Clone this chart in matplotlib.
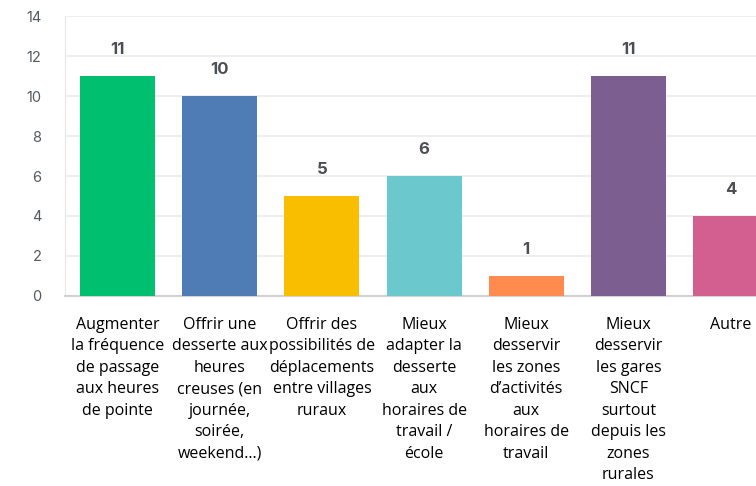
import matplotlib.pyplot as plt
import numpy as np

categories = [
    "Augmenter\nla fréquence\nde passage\naux heures\nde pointe",
    "Offrir une\ndesserte aux\nheures\ncreuses (en\njournée,\nsoirée,\nweekend…)",
    "Offrir des\npossibilités de\ndéplacements\nentre villages\nruraux",
    "Mieux\nadapter la\ndesserte\naux\nhoraires de\ntravail /\nécole",
    "Mieux\ndesservir\nles zones\nd’activités\naux\nhoraires de\ntravail",
    "Mieux\ndesservir\nles gares\nSNCF\nsurtout\ndepuis les\nzones\nrurales",
    "Autre",
]
values = [11, 10, 5, 6, 1, 11, 4]
colors = ["#00BF6F", "#507CB6", "#F9BE00", "#6BC8CD", "#FF8B4F", "#7D5E90", "#D25F90"]

fig = plt.figure(figsize=(7.56, 4.86), dpi=100)
# axes runs past the right edge, like the cropped original
ax = fig.add_axes([0.086, 0.391, 0.950, 0.576])

x = np.arange(len(values))
ax.bar(x, values, width=0.735, color=colors, zorder=3)

for xi, v in zip(x, values):
    ax.annotate(str(v), (xi, v), xytext=(0, 19), textcoords="offset points",
                ha="center", va="center", fontsize=12, fontweight="bold",
                color="#4b4f54", family="Inter")

ax.set_xlim(-0.515, len(values) - 1 + 0.515)
ax.set_ylim(0, 14)
ax.set_yticks(range(0, 15, 2))
ax.yaxis.grid(True, color="#ebebeb", linewidth=1.2, zorder=0)

ax.set_xticks(x)
ax.set_xticklabels(categories, fontsize=11.5, family="Open Sans", color="black",
                   linespacing=1.46, va="top", ha="center", multialignment="center")
ax.tick_params(axis="x", length=0, pad=15)
ax.tick_params(axis="y", length=0, pad=17, labelsize=10.5, labelcolor="#555a60")
for lab in ax.get_yticklabels():
    lab.set_family("Inter")

for s in ["top", "right"]:
    ax.spines[s].set_visible(False)
ax.spines["left"].set_color("#e6e6e6")
ax.spines["bottom"].set_color("#d0d0d0")
ax.spines["bottom"].set_linewidth(1.5)

fig.savefig("out.png", dpi=100)
plt.close("all")
